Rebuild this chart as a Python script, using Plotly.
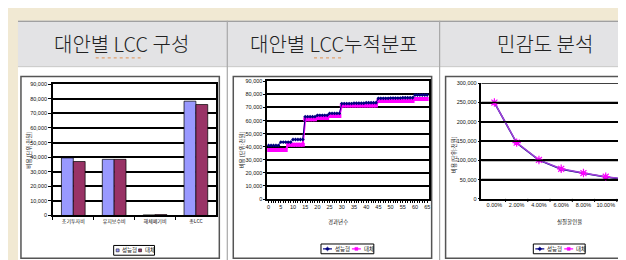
import plotly.graph_objects as go

W, H = 626, 260

# ---------------- data ----------------
# Chart 1: 대안별 LCC 구성
cat1 = ["초기투자비", "유지보수비", "해체폐기비", "총LCC"]
perf1 = [39500, 38500, 400, 78400]
alt1 = [37000, 38500, 600, 76100]

# Chart 2: 대안별 LCC 누적분포 (경과년수 0..65)
years = list(range(66))
perf2 = [41000, 41000, 41000, 41000, 41000,
         43500, 43500, 43500, 43500, 43500,
         45500, 45500, 45500, 45500, 45500,
         63000, 63000, 63000, 63000, 63000,
         64000, 64000, 64000, 64000, 64000,
         65500, 65500, 65500, 65500, 65500,
         73000, 73000, 73000, 73000, 73000,
         73300, 73300, 73300, 73300, 73300,
         73600, 73600, 73600, 73600, 73600,
         77000, 77000, 77000, 77000, 77000,
         77200, 77200, 77200, 77200, 77200,
         77400, 77400, 77400, 77400, 77400,
         79500, 79500, 79500, 79500, 79500, 79500]
alt2 = [37500, 37500, 37500, 37500, 37500,
        37500, 37500, 37500, 41500, 41500,
        41500, 41500, 41500, 41500, 41500,
        61000, 61000, 61000, 61000, 61000,
        62000, 62000, 62000, 62000, 62000,
        63500, 63500, 63500, 63500, 63500,
        71500, 71500, 71500, 71500, 71500,
        71500, 71500, 71500, 71500, 71500,
        71500, 71500, 71500, 71500, 71500,
        75000, 75000, 75000, 75000, 75000,
        75000, 75000, 75000, 75000, 75000,
        75000, 75000, 75000, 75000, 75000,
        76500, 76500, 76500, 76500, 76500, 76500]

# Chart 3: 민감도 분석 (실질할인율)
rates = [0, 2, 4, 6, 8, 10, 12]
rate_labels = ["0.00%", "2.00%", "4.00%", "6.00%", "8.00%", "10.00%", "12.00%"]
rate_bounds = [1, 3, 5, 7, 9, 11]
grid3 = [50000, 100000, 150000, 200000, 250000, 300000]
perf3 = [250000, 145000, 100500, 77000, 66500, 57000, 50000]
alt3 = [250000, 146000, 101000, 78000, 67000, 57500, 50500]

series_names = ["성능형", "대체"]

# ---------------- helpers ----------------
def px(x):
    return x / W

def py(y):
    return 1 - y / H

KR = "Noto Sans CJK KR"
NUM = "Liberation Sans"
BLUE, MAROON = "#9999FF", "#993366"
NAVY, MAGENTA = "#000080", "#FF00FF"
GRID = "#000000"

fig = go.Figure()

# chart 1 bars
fig.add_trace(go.Bar(x=cat1, y=perf1, name=series_names[0], marker=dict(color=BLUE, line=dict(color="#000", width=0.7)),
                     xaxis="x", yaxis="y", showlegend=False))
fig.add_trace(go.Bar(x=cat1, y=alt1, name=series_names[1], marker=dict(color=MAROON, line=dict(color="#000", width=0.7)),
                     xaxis="x", yaxis="y", showlegend=False))

# chart 2 lines
fig.add_trace(go.Scatter(x=years, y=alt2, mode="lines+markers", name=series_names[1],
                         line=dict(color=MAGENTA, width=2),
                         marker=dict(symbol="square", size=4, color=MAGENTA),
                         xaxis="x2", yaxis="y2", showlegend=False))
fig.add_trace(go.Scatter(x=years, y=perf2, mode="lines+markers", name=series_names[0],
                         line=dict(color=NAVY, width=1),
                         marker=dict(symbol="diamond", size=3, color=NAVY),
                         xaxis="x2", yaxis="y2", showlegend=False))

# chart 3 lines
fig.add_trace(go.Scatter(x=rates, y=perf3, mode="lines+markers", name=series_names[0],
                         line=dict(color=NAVY, width=1.5),
                         marker=dict(symbol="diamond", size=4, color=NAVY),
                         xaxis="x3", yaxis="y3", showlegend=False))
fig.add_trace(go.Scatter(x=rates, y=alt3, mode="lines+markers", name=series_names[1],
                         line=dict(color="#A040D8", width=1.5),
                         marker=dict(symbol="asterisk-open", size=7, color=MAGENTA, line=dict(color=MAGENTA, width=1.2)),
                         xaxis="x3", yaxis="y3", showlegend=False))

tickfont = dict(family=NUM, size=5.5, color="#111")

fig.update_layout(
    width=W, height=H, autosize=False,
    margin=dict(l=0, r=0, t=0, b=0),
    paper_bgcolor="#F1E9D3",
    plot_bgcolor="#FFFFFF",
    bargap=0.42, bargroupgap=0.0,
    showlegend=False,
    xaxis=dict(domain=[px(45), px(209)], anchor="y", type="category",
               tickson="boundaries", ticks="outside", ticklen=3, tickcolor="#000",
               showline=True, mirror=True, linecolor="#000", linewidth=1.5,
               tickfont=dict(family=KR, size=5, color="#111"), fixedrange=True),
    yaxis=dict(domain=[py(209.3), py(75)], anchor="x", range=[0, 90000], dtick=10000,
               tickformat=",", showgrid=True, gridcolor=GRID, gridwidth=1.5,
               ticks="outside", ticklen=3, tickcolor="#000",
               showline=True, mirror=True, linecolor="#000", linewidth=1.5,
               zeroline=False, tickfont=tickfont),
    xaxis2=dict(domain=[px(260), px(422)], anchor="y2", range=[-0.6, 65.6],
                tickmode="array", tickvals=years,
                ticktext=[str(v) if v % 5 == 0 else "" for v in years],
                ticks="outside", ticklen=2, tickcolor="#000",
                showgrid=False, zeroline=False,
                showline=True, mirror=True, linecolor="#000", linewidth=1.5,
                tickfont=tickfont),
    yaxis2=dict(domain=[py(192.5), py(72)], anchor="x2", range=[0, 90000], dtick=10000,
                tickformat=",", showgrid=True, gridcolor=GRID, gridwidth=1.5,
                ticks="outside", ticklen=2, tickcolor="#000",
                showline=True, mirror=True, linecolor="#000", linewidth=1.5,
                zeroline=False, tickfont=tickfont),
    xaxis3=dict(domain=[px(475), 1], anchor="y3", range=[-1.16, 12.36],
                tickmode="array", tickvals=rates, ticktext=rate_labels,
                ticks="", showgrid=False, zeroline=False,
                showline=True, linecolor="#000", linewidth=1.5,
                tickfont=tickfont),
    yaxis3=dict(domain=[py(192.3), py(74)], anchor="x3", range=[0, 300000], dtick=50000,
                tickformat=",", showgrid=True, gridcolor=GRID, gridwidth=1.5,
                ticks="outside", ticklen=2, tickcolor="#000",
                showline=True, linecolor="#000", linewidth=1.5,
                zeroline=False, tickfont=tickfont),
)

shapes = []
# header band & white body
shapes.append(dict(type="rect", xref="paper", yref="paper", x0=px(10), x1=1, y0=py(57), y1=py(10),
                   fillcolor="#E3E3E5", line=dict(width=0), layer="below"))
shapes.append(dict(type="line", xref="paper", yref="paper", x0=px(10), x1=1, y0=py(10.5), y1=py(10.5),
                   line=dict(color="#8A8A8A", width=1.2), layer="below"))
shapes.append(dict(type="rect", xref="paper", yref="paper", x0=px(10), x1=1, y0=0, y1=py(57),
                   fillcolor="#FFFFFF", line=dict(width=0), layer="below"))
shapes.append(dict(type="line", xref="paper", yref="paper", x0=px(10), x1=1, y0=py(57), y1=py(57),
                   line=dict(color="#C8C8C8", width=1), layer="below"))
for sx in (220, 433):
    shapes.append(dict(type="line", xref="paper", yref="paper", x0=px(sx), x1=px(sx), y0=0, y1=py(10),
                       line=dict(color="#A8A8A8", width=1.2), layer="below"))
# chart boxes
for (x0, x1) in ((13, 212), (226, 425), (439, 626)):
    shapes.append(dict(type="rect", xref="paper", yref="paper", x0=px(x0), x1=px(x1) + (0.02 if x1 == 626 else 0),
                       y0=py(253), y1=py(67),
                       fillcolor="#FFFFFF", line=dict(color="#555555", width=1.5), layer="below"))
# chart 3 gridlines drawn on the y3 scale
for g in grid3:
    shapes.append(dict(type="line", xref="x3 domain", yref="y3", x0=0, x1=1, y0=g, y1=g,
                       line=dict(color="#000", width=1.6), layer="above"))
# chart 3 category-boundary tick marks (on the x3 scale)
for b in rate_bounds:
    shapes.append(dict(type="line", xref="x3", yref="paper", x0=b, x1=b, y0=py(192.3), y1=py(195.5),
                       line=dict(color="#000", width=1)))
# spell-check underline under LCC
for (x0, x1) in ((88, 133), (307, 337)):
    shapes.append(dict(type="line", xref="paper", yref="paper", x0=px(x0), x1=px(x1), y0=py(48), y1=py(48),
                       line=dict(color="#E09050", width=1, dash="dot")))

annotations = []
# header titles
for (cx, txt) in ((113.5, "대안별 LCC 구성"), (327, "대안별 LCC누적분포"), (539, "민감도 분석")):
    annotations.append(dict(x=px(cx), y=py(33), xref="paper", yref="paper", text=txt, showarrow=False,
                            xanchor="center", yanchor="middle",
                            font=dict(family=KR, size=20, color="#222", weight=300)))
# y-axis titles
for (cx, cy) in ((21, 142), (235, 142.5), (447, 147)):
    annotations.append(dict(x=px(cx), y=py(cy), xref="paper", yref="paper", text="비용 [단위:천원]",
                            showarrow=False, textangle=-90, xanchor="center", yanchor="middle",
                            font=dict(family=KR, size=5.5, color="#111")))
# x-axis titles
annotations.append(dict(x=px(331.5), y=py(216), xref="paper", yref="paper", text="경과년수", showarrow=False,
                        xanchor="center", yanchor="middle", font=dict(family=KR, size=5.5, color="#111")))
annotations.append(dict(x=px(563), y=py(216), xref="paper", yref="paper", text="실질할인율", showarrow=False,
                        xanchor="center", yanchor="middle", font=dict(family=KR, size=5.5, color="#111")))

# legends (drawn manually)
legfont = dict(family=KR, size=5.5, color="#111")
# legend 1
shapes.append(dict(type="rect", xref="paper", yref="paper", x0=px(106), x1=px(147), y0=py(250), y1=py(240),
                   fillcolor="#FFFFFF", line=dict(color="#000", width=1)))
shapes.append(dict(type="rect", xref="paper", yref="paper", x0=px(108.5), x1=px(111.5), y0=py(246.5), y1=py(243.5),
                   fillcolor=BLUE, line=dict(color="#000", width=0.5)))
annotations.append(dict(x=px(112.5), y=py(245), xref="paper", yref="paper", text=series_names[0], showarrow=False,
                        xanchor="left", yanchor="middle", font=legfont))
shapes.append(dict(type="rect", xref="paper", yref="paper", x0=px(131), x1=px(134), y0=py(246.5), y1=py(243.5),
                   fillcolor=MAROON, line=dict(color="#000", width=0.5)))
annotations.append(dict(x=px(135), y=py(245), xref="paper", yref="paper", text=series_names[1], showarrow=False,
                        xanchor="left", yanchor="middle", font=legfont))


def line_legend(x0, x1, yc, gap):
    shapes.append(dict(type="rect", xref="paper", yref="paper", x0=px(x0), x1=px(x1), y0=py(yc + 5), y1=py(yc - 5),
                       fillcolor="#FFFFFF", line=dict(color="#000", width=1)))
    a = x0 + 2
    shapes.append(dict(type="line", xref="paper", yref="paper", x0=px(a), x1=px(a + 9), y0=py(yc), y1=py(yc),
                       line=dict(color=NAVY, width=1.2)))
    m = a + 4.5
    shapes.append(dict(type="path", xref="paper", yref="paper",
                       path=f"M {px(m)} {py(yc-2)} L {px(m+2)} {py(yc)} L {px(m)} {py(yc+2)} L {px(m-2)} {py(yc)} Z",
                       fillcolor=NAVY, line=dict(color=NAVY, width=0.5)))
    annotations.append(dict(x=px(a + 10), y=py(yc), xref="paper", yref="paper", text=series_names[0], showarrow=False,
                            xanchor="left", yanchor="middle", font=legfont))
    b = a + gap
    shapes.append(dict(type="line", xref="paper", yref="paper", x0=px(b), x1=px(b + 9), y0=py(yc), y1=py(yc),
                       line=dict(color=MAGENTA, width=1.2)))
    m = b + 4.5
    shapes.append(dict(type="rect", xref="paper", yref="paper", x0=px(m - 1.5), x1=px(m + 1.5), y0=py(yc + 1.5),
                       y1=py(yc - 1.5), fillcolor=MAGENTA, line=dict(color=MAGENTA, width=0.5)))
    annotations.append(dict(x=px(b + 10), y=py(yc), xref="paper", yref="paper", text=series_names[1], showarrow=False,
                            xanchor="left", yanchor="middle", font=legfont))


line_legend(314, 367, 243.5, 29)
line_legend(527, 579, 243.5, 29)

fig.update_layout(shapes=shapes, annotations=annotations)
fig.write_html("out.html")
